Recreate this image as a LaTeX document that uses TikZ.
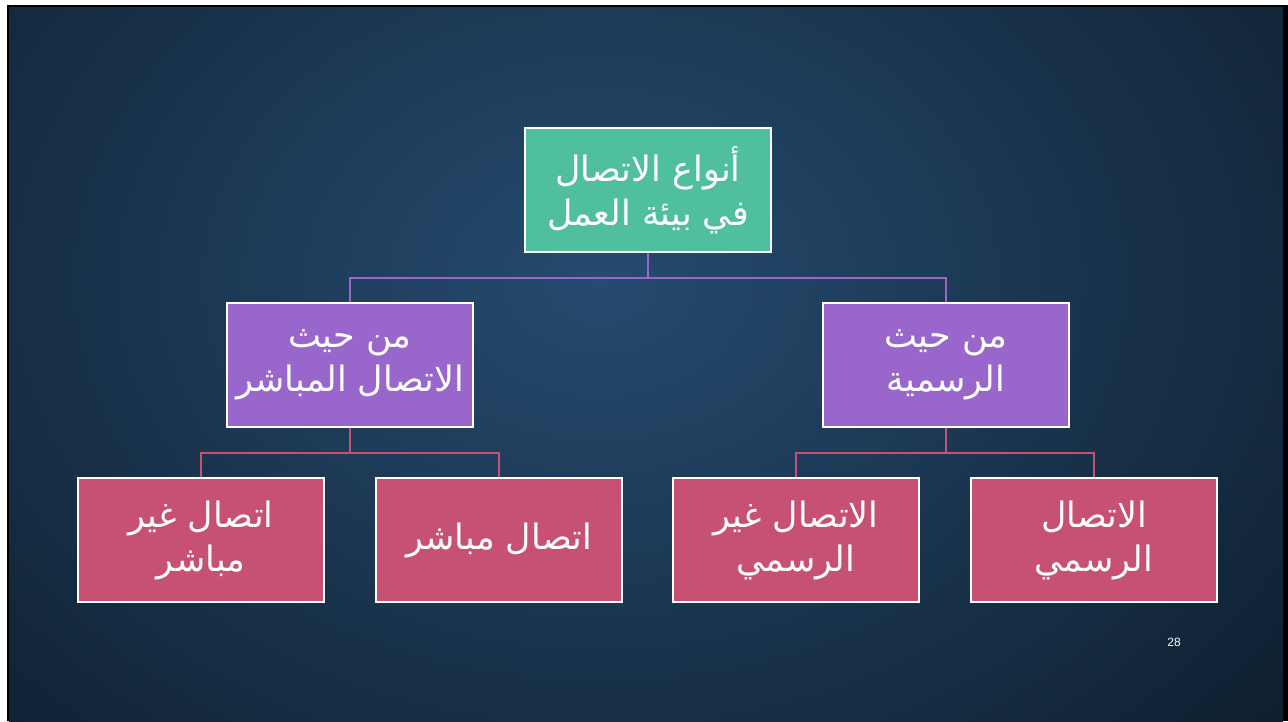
\documentclass[tikz,border=0pt]{standalone}
\usepackage{fontspec}
\newfontfamily\arabicfont[Script=Arabic]{DejaVu Sans}
\setmainfont{Liberation Sans}
\TeXXeTstate=1
\definecolor{teal1}{HTML}{4FBFA0}
\definecolor{purp1}{HTML}{9966CC}
\definecolor{pink1}{HTML}{C65172}
\definecolor{bgin}{HTML}{264B6F}
\definecolor{bgout}{HTML}{050E17}
\tikzset{
  boxbase/.style={draw=white, line width=2pt, minimum width=246pt, minimum height=124pt,
    inner sep=0pt, text=white, align=center,
    font=\arabicfont\fontsize{35}{44}\selectfont},
  topbox/.style={boxbase, fill=teal1},
  midbox/.style={boxbase, fill=purp1},
  lowbox/.style={boxbase, fill=pink1},
  purpline/.style={draw=purp1, line width=2pt},
  pinkline/.style={draw=pink1, line width=2pt}
}
\newcommand{\rl}[1]{\beginR #1\endR}
\begin{document}
\begin{tikzpicture}[x=1pt,y=-1pt]
\useasboundingbox (0,0) rectangle (1288,721);
\fill[white] (0,0) rectangle (1288,721);
\fill[black] (7,5) rectangle (1288,721);
\begin{scope}
\clip (9,7) rectangle (1283,721);
\shade[inner color=bgin, outer color=bgout] (600,280) ellipse (1250 and 950);
\end{scope}

\node[topbox] (top) at (648,190) {\rl{أنواع الاتصال}\\\rl{في بيئة العمل}};
\node[midbox] (ml) at (350,365) {\rl{من حيث}\\\rl{الاتصال المباشر}};
\node[midbox] (mr) at (946,365) {\rl{من حيث}\\\rl{الرسمية}};
\node[lowbox] (b1) at (201,540) {\rl{اتصال غير}\\\rl{مباشر}};
\node[lowbox] (b2) at (499,540) {\rl{اتصال مباشر}};
\node[lowbox] (b3) at (796,540) {\rl{الاتصال غير}\\\rl{الرسمي}};
\node[lowbox] (b4) at (1094,540) {\rl{الاتصال}\\\rl{الرسمي}};

\draw[purpline] (top.south) -- ++(0,25) -| (ml.north);
\draw[purpline] (top.south) -- ++(0,25) -| (mr.north);
\draw[pinkline] (ml.south) -- ++(0,25) -| (b1.north);
\draw[pinkline] (ml.south) -- ++(0,25) -| (b2.north);
\draw[pinkline] (mr.south) -- ++(0,25) -| (b3.north);
\draw[pinkline] (mr.south) -- ++(0,25) -| (b4.north);

\node[text=white, font=\fontsize{12}{14}\selectfont] (pg) at (1174,642) {28};
\end{tikzpicture}
\end{document}
